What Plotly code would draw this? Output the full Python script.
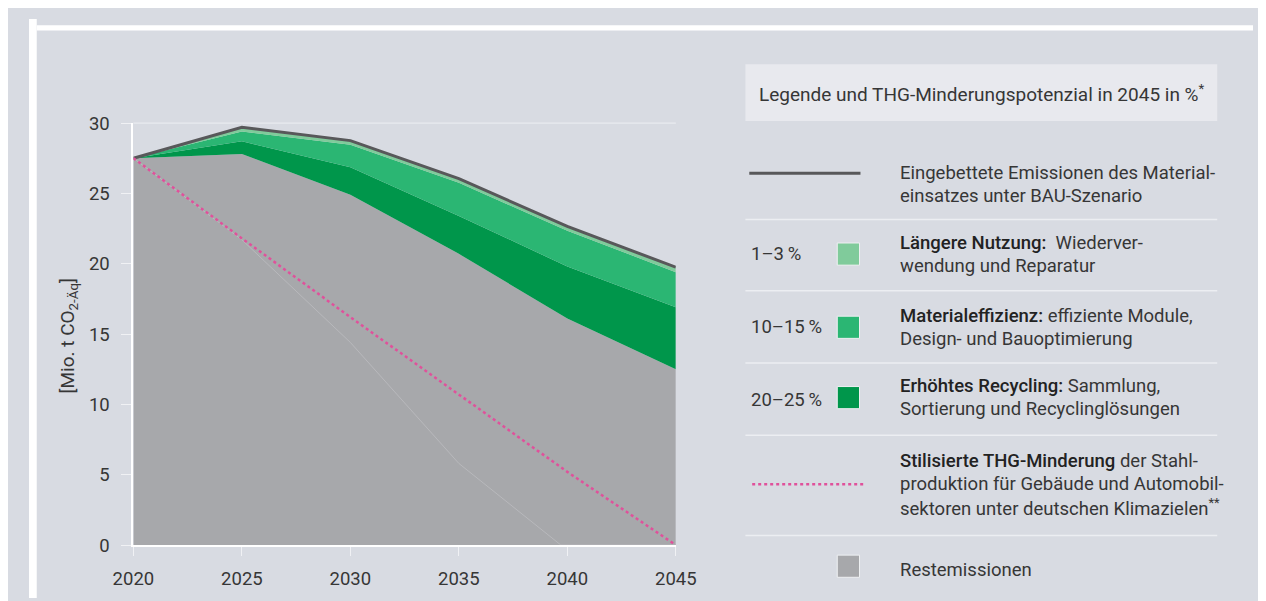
import plotly.graph_objects as go

W, H = 1266, 601

# --- data (Mio. t CO2-Äq) ---
years = [2020, 2025, 2030, 2035, 2040, 2045]
bau_total = [27.5, 29.7, 28.75, 26.05, 22.65, 19.75]        # Eingebettete Emissionen BAU
after_nutzung = [27.5, 29.4, 28.45, 25.75, 22.35, 19.4]     # minus Längere Nutzung
after_effizienz = [27.5, 28.7, 26.85, 23.4, 19.8, 16.9]     # minus Materialeffizienz
rest = [27.5, 27.8, 24.9, 20.7, 16.1, 12.5]                 # Restemissionen
steel_path = [27.5, 21.8, 16.2, 10.7, 5.2, 0.0]             # stilisierte THG-Minderung
faint_years = [2020, 2025, 2030, 2035, 2039.7, 2045]
faint_line = [27.5, 21.7, 14.4, 5.8, 0.0, 0.0]

share_labels = ["1\u20133\u2009%", "10\u201315\u2009%", "20\u201325\u2009%"]

C_GRAY = "#a7a8ab"
C_DARK = "#00964b"
C_MID = "#2bb673"
C_LIGHT = "#80cb9b"
C_LINE = "#58585a"
C_PINK = "#e0519b"
C_BG = "#d8dbe2"
C_TXT = "#363636"
FONT = "Roboto"
FS = 18.5


def px(x):
    return x / W


def py(y):
    return 1 - y / H


def med(s):
    return '<span style="font-weight:500;color:#222222">' + s + '</span>'


fig = go.Figure()

fig.add_trace(go.Scatter(x=years, y=rest, mode="lines", line=dict(width=0, color=C_GRAY),
                         fill="tozeroy", fillcolor=C_GRAY, hoverinfo="skip"))
fig.add_trace(go.Scatter(x=years, y=after_effizienz, mode="lines", line=dict(width=0, color=C_DARK),
                         fill="tonexty", fillcolor=C_DARK, hoverinfo="skip"))
fig.add_trace(go.Scatter(x=years, y=after_nutzung, mode="lines", line=dict(width=0, color=C_MID),
                         fill="tonexty", fillcolor=C_MID, hoverinfo="skip"))
fig.add_trace(go.Scatter(x=years, y=bau_total, mode="lines", line=dict(width=0, color=C_LIGHT),
                         fill="tonexty", fillcolor=C_LIGHT, hoverinfo="skip"))
fig.add_trace(go.Scatter(x=faint_years, y=faint_line, mode="lines",
                         line=dict(width=0.8, color="#bcbdc0")))
fig.add_trace(go.Scatter(x=years, y=bau_total, mode="lines",
                         line=dict(width=3, color=C_LINE)))
fig.add_trace(go.Scatter(x=years, y=steel_path, mode="lines",
                         line=dict(width=2.5, color=C_PINK, dash="dot")))

shapes = []
annotations = []

# page framing: white strip left, white rule on top
shapes.append(dict(type="rect", xref="paper", yref="paper", x0=0, x1=px(8), y0=0, y1=1,
                   fillcolor="white", line_width=0, layer="below"))
shapes.append(dict(type="rect", xref="paper", yref="paper", x0=px(8), x1=1, y0=py(12), y1=py(6.5),
                   fillcolor="white", line_width=0, layer="below"))
# only the top grid line at 30 is visible in the original
shapes.append(dict(type="line", xref="paper", yref="paper", x0=px(108), x1=px(669),
                   y0=py(108), y1=py(108), line=dict(color="#e9ebef", width=1.2), layer="below"))

# legend header box
shapes.append(dict(type="rect", xref="paper", yref="paper", x0=px(741), x1=px(1229),
                   y0=py(106), y1=py(47), fillcolor="#e8e9ee", line_width=0, layer="below"))
annotations.append(dict(xref="paper", yref="paper", x=px(986), y=py(77),
                        text="Legende und THG-Minderungspotenzial in 2045 in %<sup>*</sup>",
                        showarrow=False, xanchor="center", yanchor="middle",
                        font=dict(size=19, color=C_TXT, family=FONT)))

# separators
for yy in [208, 282, 357, 432, 536]:
    shapes.append(dict(type="line", xref="paper", yref="paper", x0=px(741), x1=px(1229),
                       y0=py(yy), y1=py(yy), line=dict(color="#eceef2", width=1.5)))

# legend symbols
shapes.append(dict(type="line", xref="paper", yref="paper", x0=px(745), x1=px(860),
                   y0=py(160), y1=py(160), line=dict(color=C_LINE, width=3)))
shapes.append(dict(type="line", xref="paper", yref="paper", x0=px(748), x1=px(863),
                   y0=py(483), y1=py(483), line=dict(color=C_PINK, width=2.5, dash="dot")))
for yc, col in [(244, C_LIGHT), (320, C_MID), (393, C_DARK), (568, C_GRAY)]:
    shapes.append(dict(type="rect", xref="paper", yref="paper", x0=px(836), x1=px(859),
                       y0=py(yc + 11.5), y1=py(yc - 11.5), fillcolor=col,
                       line=dict(color="#eef0f2", width=1)))

for yc, lab in zip([244, 320, 395], share_labels):
    annotations.append(dict(xref="paper", yref="paper", x=px(745), y=py(yc), text=lab,
                            showarrow=False, xanchor="left", yanchor="middle",
                            font=dict(size=FS, color=C_TXT, family=FONT)))

legend_lines = [
    (160, "Eingebettete Emissionen des Material-"),
    (184, "einsatzes unter BAU-Szenario"),
    (232, med("Längere Nutzung:") + "  Wiederver-"),
    (256, "wendung und Reparatur"),
    (308, med("Materialeffizienz:") + " effiziente Module,"),
    (332, "Design- und Bauoptimierung"),
    (381, med("Erhöhtes Recycling:") + " Sammlung,"),
    (405, "Sortierung und Recyclinglösungen"),
    (459, med("Stilisierte THG-Minderung") + " der Stahl-"),
    (483, "produktion für Gebäude und Automobil-"),
    (507, "sektoren unter deutschen Klimazielen<sup>**</sup>"),
    (572, "Restemissionen"),
]
for yc, txt in legend_lines:
    annotations.append(dict(xref="paper", yref="paper", x=px(899), y=py(yc), text=txt,
                            showarrow=False, xanchor="left", yanchor="middle",
                            font=dict(size=FS, color=C_TXT, family=FONT)))

# y axis title
annotations.append(dict(xref="paper", yref="paper", x=px(41), y=py(329),
                        text="[Mio. t CO<sub>2-Äq</sub>]", textangle=-90, showarrow=False,
                        xanchor="center", yanchor="middle",
                        font=dict(size=19, color=C_TXT, family=FONT)))

fig.update_layout(
    width=W, height=H,
    margin=dict(l=0, r=0, t=0, b=0),
    paper_bgcolor=C_BG, plot_bgcolor=C_BG,
    showlegend=False,
    font=dict(family=FONT, size=FS, color=C_TXT),
    shapes=shapes, annotations=annotations,
    xaxis=dict(domain=[px(108), px(669)], range=[2020, 2045], tickvals=years,
               showgrid=False, zeroline=False, showline=True, linecolor="white", linewidth=2,
               ticks="outside", ticklen=9, tickcolor="#f0f1f4", tickwidth=1,
               ticklabelstandoff=7, tickfont=dict(size=FS, color=C_TXT)),
    yaxis=dict(domain=[1 - 546 / H, 1 - 108 / H], range=[0, 30], tickvals=[0, 5, 10, 15, 20, 25, 30],
               showgrid=False, zeroline=False,
               showline=True, linecolor="white", linewidth=2,
               ticks="outside", ticklen=10, tickcolor="#f0f1f4", tickwidth=1,
               ticklabelstandoff=8, tickfont=dict(size=FS, color=C_TXT)),
)

fig.write_html("out.html")
